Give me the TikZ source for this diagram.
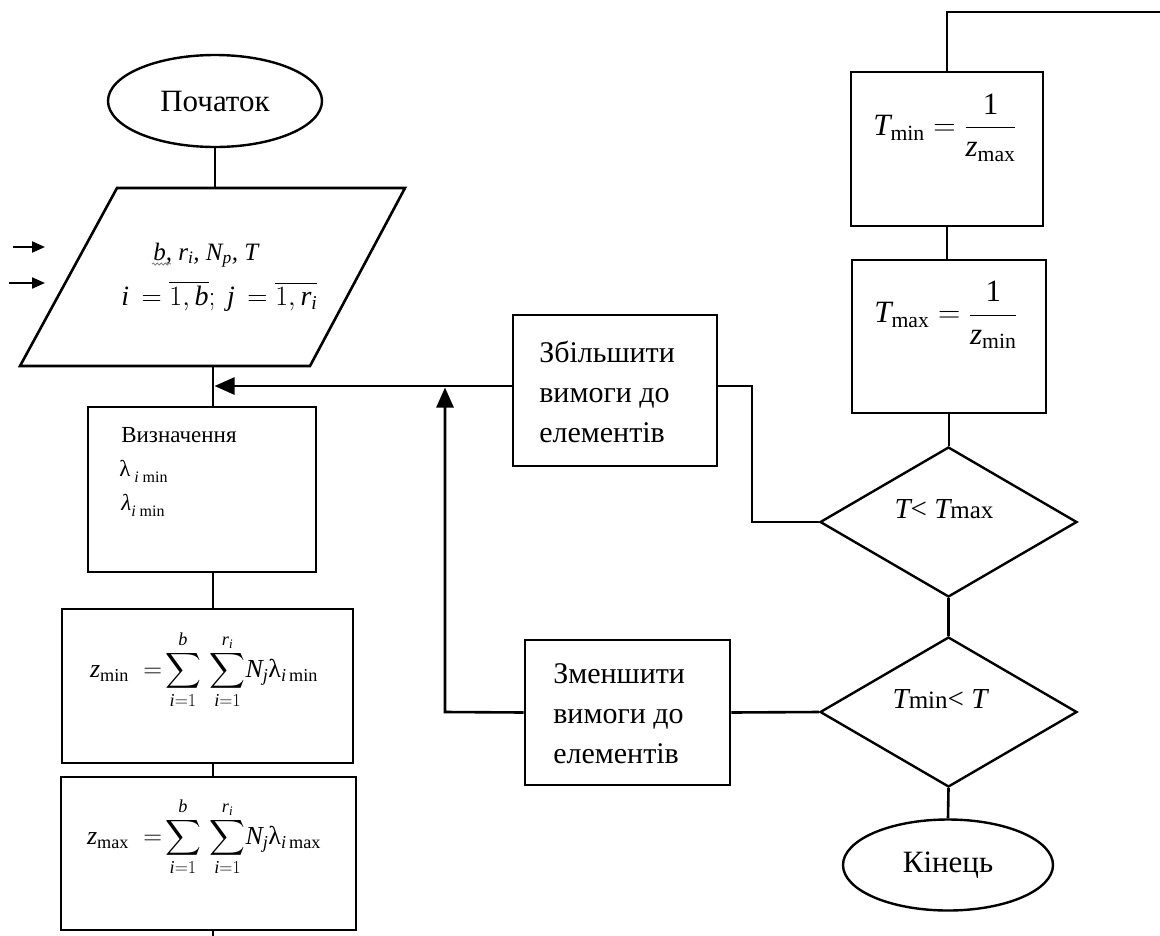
\RequirePackage{fix-cm}
\documentclass[tikz,border=0pt]{standalone}
\usepackage{amsmath}
\usepackage{fontspec}
\setmainfont{Liberation Serif}
\usetikzlibrary{arrows.meta,shapes.geometric,decorations.pathmorphing}
\newcommand\ti[1]{\text{\itshape #1}}
\begin{document}
\begin{tikzpicture}[x=1pt,y=-1pt,line width=2.6pt,
  blk/.style={draw, rectangle, inner sep=0pt, line width=2.6pt},
  term/.style={draw, ellipse, inner sep=0pt, line width=2.4pt},
  cond/.style={draw, diamond, inner sep=0pt, line width=2.4pt},
  arr/.style={-{Triangle[length=20pt,width=17pt]}},
  inarr/.style={-{Triangle[length=13pt,width=11pt]}, line width=2.2pt},
  lbl/.style={anchor=west, inner sep=0pt, font=\fontsize{30}{40}\selectfont, align=left},
  txt/.style={anchor=base west, inner sep=0pt}]
\useasboundingbox (0,0) rectangle (1160,935);
\fill[white] (0,0) rectangle (1160,935);

% ---------- left column ----------
\node[term, minimum width=214, minimum height=92, font=\fontsize{31}{36}\selectfont] (start) at (215,101) {Початок};

\coordinate (p1) at (117,188);
\coordinate (p2) at (405,188);
\coordinate (p3) at (310,366);
\coordinate (p4) at (20,366);
\draw (p1) -- (p2) -- (p3) -- (p4) -- cycle;
\coordinate (inT) at (213,188);
\coordinate (inB) at (213,366);

\node[txt, font=\fontsize{25}{30}\selectfont\itshape] (in1) at (152,260) {b, r\textsubscript{i}, N\textsubscript{p}, T};
\draw[decorate, decoration={snake,amplitude=1.1pt,segment length=4pt}, line width=0.8pt, draw=gray]
  ([yshift=-4pt]in1.base west) -- ++(19,0);
\node[txt, font=\fontsize{28}{32}\selectfont] (in2) at (120,305)
  {$\ti{i}\, = \overline{1,\ti{b}};\ \ti{j}\, = \overline{1,\ti{r}_{\ti{i}}}$};

\coordinate (a1) at (13,247);
\coordinate (a1e) at (45,247);
\coordinate (a2) at (9,283);
\coordinate (a2e) at (45,283);
\draw[inarr] (a1) -- (a1e);
\draw[inarr] (a2) -- (a2e);

\node[blk, minimum width=228, minimum height=165] (def) at (202,489.5) {};
\node[txt, font=\fontsize{23}{27}\selectfont] (defa) at (120,442) {Визначення};
\node[txt, font=\fontsize{23}{27}\selectfont] (defb) at (118,476)
  {λ\,\raisebox{-0.3em}{\fontsize{16}{19}\selectfont\itshape i \upshape min}};
\node[txt, font=\fontsize{23}{27}\selectfont] (defc) at (120,510)
  {\itshape λ\raisebox{-0.3em}{\fontsize{16}{19}\selectfont i \upshape min}};

\node[blk, minimum width=291, minimum height=154] (zmin) at (207.5,686) {};
\node[inner sep=0pt, font=\fontsize{26}{30}\selectfont] (zminf) at (204,670)
  {$\displaystyle \ti{z}_{\text{min}}\;=\!\sum_{\ti{i}=1}^{\ti{b}}\,\sum_{\ti{i}=1}^{\ti{r}_{\ti{i}}}\!\ti{N}_{\ti{j}}\text{λ}_{\ti{i}\,\text{min}}$};

\node[blk, minimum width=295, minimum height=153] (zmax) at (208.5,853.5) {};
\node[inner sep=0pt, font=\fontsize{26}{30}\selectfont] (zmaxf) at (204,837)
  {$\displaystyle \ti{z}_{\text{max}}\;=\!\sum_{\ti{i}=1}^{\ti{b}}\,\sum_{\ti{i}=1}^{\ti{r}_{\ti{i}}}\!\ti{N}_{\ti{j}}\text{λ}_{\ti{i}\,\text{max}}$};

\coordinate (bot) at (213,950);
\draw (start.south) -- (start.south |- inT);
\draw (inB) -- (inB |- def.north);
\draw (inB |- def.south) -- (inB |- zmin.north);
\draw (inB |- zmin.south) -- (inB |- zmax.north);
\draw (inB |- zmax.south) -- (bot);

% ---------- right column ----------
\coordinate (tr) at (1175,12);
\node[blk, minimum width=192, minimum height=154] (tmin) at (947,149) {};
\node[inner sep=0pt, font=\fontsize{31}{35}\selectfont] (tminf) at (945,128)
  {$\displaystyle \ti{T}_{\text{min}} = \frac{\text{1}}{\ti{z}_{\text{max}}}$};
\node[blk, minimum width=194, minimum height=153] (tmax) at (949,336.5) {};
\node[inner sep=0pt, font=\fontsize{31}{35}\selectfont] (tmaxf) at (946,315)
  {$\displaystyle \ti{T}_{\text{max}} = \frac{\text{1}}{\ti{z}_{\text{min}}}$};

\node[cond, minimum width=257, minimum height=150] (d1) at (948.5,522) {};
\node[anchor=base, inner sep=0pt, font=\fontsize{29}{33}\selectfont] (d1t) at (944,518)
  {\itshape T\upshape< \itshape T\upshape\fontsize{25}{30}\selectfont max};
\node[cond, minimum width=257, minimum height=150] (d2) at (948.5,712) {};
\node[anchor=base, inner sep=0pt, font=\fontsize{29}{33}\selectfont] (d2t) at (940,708)
  {\itshape T\upshape{\fontsize{25}{30}\selectfont min}< \itshape T};

\node[term, minimum width=210, minimum height=91, font=\fontsize{31}{36}\selectfont] (fin) at (948,865) {Кінець};

\draw (tr) -| (tmin.north);
\draw (tmin.south) -- (tmin.south |- tmax.north);
\draw (tmax.south) -- (tmax.south |- d1.north);
\draw (d1.south) -- (d2.north);
\draw (d2.south) -- (fin.north);

% ---------- middle ----------
\node[blk, minimum width=204, minimum height=151] (inc) at (615,390.5) {};
\node[lbl] (inct) at (538,392) {Збільшити\\вимоги до\\елементів};
\node[blk, minimum width=205, minimum height=145] (dec) at (627.5,712.5) {};
\node[lbl] (dect) at (552,714) {Зменшити\\вимоги до\\елементів};

\coordinate (c1) at (752,386);
\coordinate (c2) at (445,712);
\draw (d1.west) -| (c1) -- (c1 -| inc.east);
\draw[arr] (c1 -| inc.west) -- ([xshift=1.5pt]inB |- c1);
\draw (d2.west) -- (dec.east);
\draw[arr] (dec.west) -- (c2) -- ([yshift=-1.5pt]c2 |- c1);
\end{tikzpicture}
\end{document}
